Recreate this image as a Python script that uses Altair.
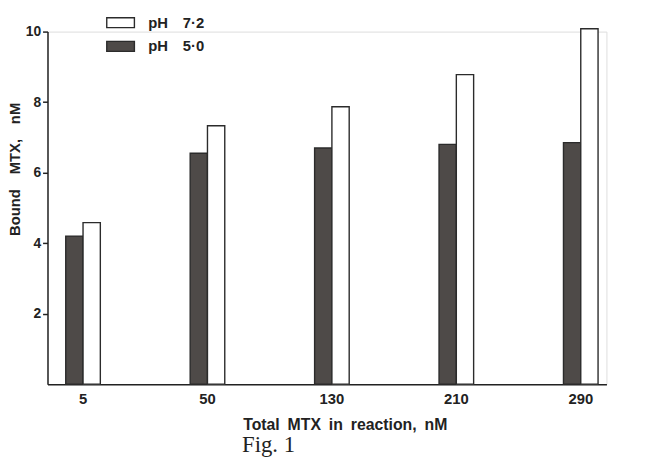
import altair as alt
import pandas as pd

# Data
conc = ["5", "50", "130", "210", "290"]
ph50 = [4.2, 6.55, 6.7, 6.8, 6.85]
ph72 = [4.58, 7.33, 7.87, 8.78, 10.08]
series_legend = ["pH 7·2", "pH 5·0"]
series_order = ["pH 5·0", "pH 7·2"]
y_ticks = [2, 4, 6, 8, 10]

rows = []
for c, a, b in zip(conc, ph50, ph72):
    rows.append({"conc": c, "ph": "pH 5·0", "bound": a})
    rows.append({"conc": c, "ph": "pH 7·2", "bound": b})
df = pd.DataFrame(rows)

FONT = "Liberation Sans"
INK = "#222222"

chart = alt.Chart(df).mark_bar(stroke="#2b2b2b", strokeWidth=1.4).encode(
    x=alt.X(
        "conc:N",
        sort=conc,
        scale=alt.Scale(paddingInner=0.722, paddingOuter=0.107, align=0.685),
        axis=alt.Axis(
            title="Total\u2002MTX\u2002in\u2002reaction,\u2002nM",
            labelAngle=0,
            ticks=False,
            tickSize=0,
            labelPadding=8,
            titlePadding=10,
            titleX=301,
            domainColor=INK,
            domainWidth=1.5,
            labelFont=FONT,
            labelFontSize=15,
            labelFontWeight="bold",
            labelColor=INK,
            titleFont=FONT,
            titleFontSize=16,
            titleFontWeight="bold",
            titleColor=INK,
        ),
    ),
    xOffset=alt.XOffset(
        "ph:N", sort=series_order, scale=alt.Scale(paddingInner=0, paddingOuter=0)
    ),
    y=alt.Y(
        "bound:Q",
        scale=alt.Scale(domain=[0, 10], nice=False, zero=True),
        axis=alt.Axis(
            values=y_ticks,
            grid=False,
            tickSize=5,
            tickColor=INK,
            tickWidth=1.5,
            labelPadding=2,
            domainColor=INK,
            domainWidth=1.5,
            title="Bound\u2003MTX,\u2003nM",
            titlePadding=3,
            titleY=139,
            labelFont=FONT,
            labelFontSize=14,
            labelFontWeight="bold",
            labelColor=INK,
            titleFont=FONT,
            titleFontSize=15,
            titleFontWeight="bold",
            titleColor=INK,
        ),
    ),
    fill=alt.Fill(
        "ph:N",
        scale=alt.Scale(domain=series_legend, range=["#ffffff", "#4e4a48"]),
        legend=alt.Legend(
            title=None,
            orient="none",
            legendX=59,
            legendY=-24,
            symbolType="M-1,-0.36H1V0.36H-1Z",
            symbolSize=784,
            symbolStrokeColor="#2b2b2b",
            symbolStrokeWidth=1.4,
            labelFont=FONT,
            labelFontSize=15,
            labelFontWeight="bold",
            labelColor=INK,
            labelOffset=13,
            labelExpr="replace(datum.label, ' ', '\u2003')",
            rowPadding=1,
            padding=0,
        ),
    ),
).properties(
    width=566,
    height=357,
    autosize=alt.AutoSizeParams(type="none"),
    padding={"left": 40, "top": 21, "right": 36, "bottom": 80},
    title=alt.TitleParams(
        "Fig. 1",
        orient="bottom",
        anchor="start",
        frame="group",
        dx=197,
        offset=2,
        font="Liberation Serif",
        fontSize=23,
        fontWeight="normal",
        color=INK,
    ),
).configure_view(stroke=None).configure(background="white")

chart.save("out.html", embed_options={"renderer": "svg", "actions": False})
